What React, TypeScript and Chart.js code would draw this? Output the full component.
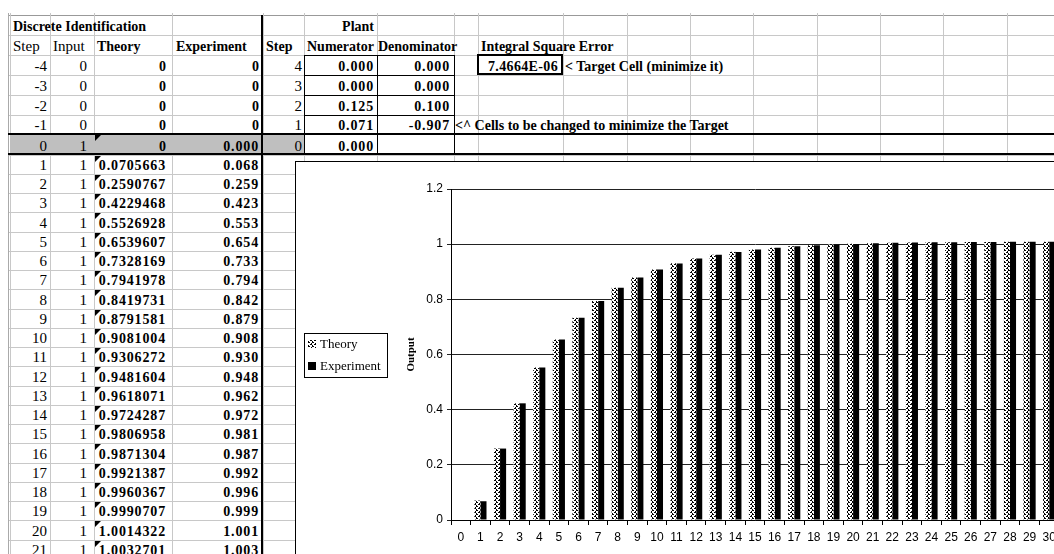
import React, { useEffect, useRef } from 'react';
import { Chart, registerables } from 'chart.js';

Chart.register(...registerables);

// ---------- chart data ----------
const steps = ['0','1','2','3','4','5','6','7','8','9','10','11','12','13','14','15','16','17','18','19','20','21','22','23','24','25','26','27','28','29','30'];
const theory = [0, 0.0705663, 0.2590767, 0.4229468, 0.5526928, 0.6539607, 0.7328169, 0.7941978, 0.8419731, 0.8791581, 0.9081004, 0.9306272, 0.9481604, 0.9618071, 0.9724287, 0.9806958, 0.9871304, 0.9921387, 0.9960367, 0.9990707, 1.0014322, 1.0032701, 1.0047005, 1.0058138, 1.0066803, 1.0073547, 1.0078796, 1.0082881, 1.008606, 1.0088534, 1.009046];
const experiment = [0, 0.068, 0.259, 0.423, 0.553, 0.654, 0.733, 0.794, 0.842, 0.879, 0.908, 0.930, 0.948, 0.962, 0.972, 0.981, 0.987, 0.992, 0.996, 0.999, 1.001, 1.003, 1.005, 1.006, 1.007, 1.007, 1.008, 1.008, 1.009, 1.009, 1.009];
const seriesNames = ['Theory', 'Experiment'];
const axisTitle = 'Output';
const yTickLabels = ['0', '0.2', '0.4', '0.6', '0.8', '1', '1.2'];

// ---------- sheet data ----------
const leadSteps = ['-4', '-3', '-2', '-1'];
const leadInputs = ['0', '0', '0', '0'];
const plantSteps = ['4', '3', '2', '1', '0'];
const numerator = ['0.000', '0.000', '0.125', '0.071', '0.000'];
const denominator = ['0.000', '0.000', '0.100', '-0.907'];
const iseValue = '7.4664E-06';
const tableRows = 21;

const COLS = [10, 50, 94, 172, 263, 304, 377, 454, 478, 563, 627, 690, 753, 817, 880, 943, 1007, 1070];
const HEAD_TOPS = [15, 35, 55, 75, 95, 115, 134, 154.5];
const ROW_H = 19.25;
const dataTop = (k: number) => 154.5 + (k - 1) * ROW_H;

type TP = { x1: number; x2: number; y1: number; y2: number; text: string; bold?: boolean; align?: 'left' | 'right'; pad?: number; ls?: number; size?: number };
function T(p: TP) {
  const right = p.align === 'right';
  return (
    <div style={{
      position: 'absolute', left: p.x1, top: p.y1, width: p.x2 - p.x1, height: p.y2 - p.y1,
      display: 'flex', alignItems: 'flex-end', justifyContent: right ? 'flex-end' : 'flex-start',
      boxSizing: 'border-box', paddingLeft: right ? 0 : (p.pad ?? 3), paddingRight: right ? (p.pad ?? 3) : 0,
      fontWeight: p.bold ? 700 : 400, fontSize: p.size ?? (p.bold ? 14 : 15), letterSpacing: p.ls ?? 0,
      whiteSpace: 'nowrap', lineHeight: '17px', color: '#000', fontFamily: '"Liberation Serif", serif'
    }}>{p.text}</div>
  );
}

function Line({ x, y, w, h, c }: { x: number; y: number; w: number; h: number; c: string }) {
  return <div style={{ position: 'absolute', left: x, top: y, width: w, height: h, background: c }} />;
}

function Tri({ x, y }: { x: number; y: number }) {
  return <div style={{ position: 'absolute', left: x, top: y, width: 0, height: 0, borderTop: '6px solid #000', borderRight: '6px solid transparent' }} />;
}

function ChartView() {
  const ref = useRef<HTMLCanvasElement>(null);
  useEffect(() => {
    const canvas = ref.current!;
    const pc = document.createElement('canvas');
    pc.width = 4; pc.height = 4;
    const p = pc.getContext('2d')!;
    p.fillStyle = '#fff'; p.fillRect(0, 0, 4, 4);
    p.fillStyle = '#000';
    [[0, 0], [1, 0], [3, 1], [2, 2], [3, 2], [0, 3]].forEach(([x, y]) => p.fillRect(x, y, 1, 1));
    const ctx = canvas.getContext('2d')!;
    const pattern = ctx.createPattern(pc, 'repeat')!;

    const legendPlugin = {
      id: 'xlLegend',
      afterDraw(chart: any) {
        const c = chart.ctx;
        c.save();
        c.strokeStyle = '#000'; c.lineWidth = 1;
        c.strokeRect(8.5, 171.5, 83, 44);
        c.fillStyle = pattern; c.fillRect(12, 178, 8, 8);
        c.fillStyle = '#000'; c.fillRect(12, 200, 8, 8);
        c.font = '13px "Liberation Serif"';
        c.textBaseline = 'middle';
        c.fillText(chart.data.datasets[0].label, 24, 182.5);
        c.fillText(chart.data.datasets[1].label, 24, 204.5);
        c.restore();
      }
    };

    const chart = new Chart(canvas, {
      type: 'bar',
      data: {
        labels: steps,
        datasets: [
          { label: seriesNames[0], data: theory, backgroundColor: pattern as any, borderWidth: 0, categoryPercentage: 0.62, barPercentage: 1 },
          { label: seriesNames[1], data: experiment, backgroundColor: '#000', borderWidth: 0, categoryPercentage: 0.62, barPercentage: 1 }
        ]
      },
      options: {
        responsive: false,
        animation: false,
        layout: { padding: { left: 0, top: 27, right: 17, bottom: 0 } },
        plugins: { legend: { display: false }, tooltip: { enabled: false } },
        scales: {
          x: {
            grid: { drawOnChartArea: false, drawTicks: true, tickLength: 5, color: '#000', offset: true },
            border: { color: '#000' },
            ticks: { color: '#000', font: { family: 'Liberation Sans', size: 12 }, padding: 5, maxRotation: 0, autoSkip: false },
            afterFit: (s: any) => { s.height = 42; }
          },
          y: {
            min: 0, max: 1.2,
            ticks: {
              stepSize: 0.2, color: '#000', font: { family: 'Liberation Sans', size: 12 }, padding: 4,
              callback: (_v: any, i: number) => yTickLabels[i]
            },
            grid: { color: '#222', tickLength: 4 },
            border: { color: '#000' },
            title: { display: true, text: axisTitle, color: '#000', font: { family: 'Liberation Serif', size: 11, weight: 'bold' }, padding: { top: 109, bottom: 0 } },
            afterFit: (s: any) => { s.width = 155; }
          }
        }
      },
      plugins: [legendPlugin]
    });
    return () => chart.destroy();
  }, []);
  return (
    <div style={{ position: 'absolute', left: 295, top: 161, width: 780, height: 400, border: '1px solid #000', background: '#fff' }}>
      <canvas ref={ref} width={780} height={400} style={{ display: 'block' }} />
    </div>
  );
}

export default function App() {
  const els: React.ReactNode[] = [];
  const grid = '#c8c8c8';
  const hLines: number[] = [...HEAD_TOPS];
  for (let k = 2; k <= tableRows + 1; k++) hLines.push(dataTop(k));
  hLines.forEach((y, i) => els.push(<Line key={'h' + i} x={8} y={Math.round(y)} w={1060} h={1} c={i === 0 ? '#999' : grid} />));
  COLS.forEach((x, i) => els.push(<Line key={'v' + i} x={x} y={13} w={1} h={560} c={grid} />));
  els.push(<Line key="vleft" x={8} y={13} w={1} h={560} c="#aaa" />);
  els.push(<div key="gray" style={{ position: 'absolute', left: 10, top: 134, width: 294, height: 20, background: '#bfbfbf' }} />);

  const y = (i: number) => [HEAD_TOPS[i], HEAD_TOPS[i + 1]];
  let n = 0;
  const add = (p: TP) => els.push(<T key={'t' + (n++)} {...p} />);

  add({ x1: COLS[0], x2: COLS[3], y1: 15, y2: 35, text: 'Discrete Identification', bold: true, pad: 3 });
  add({ x1: COLS[5], x2: COLS[6], y1: 15, y2: 35, text: 'Plant', bold: true, align: 'right', pad: 3 });
  add({ x1: COLS[0], x2: COLS[1], y1: 35, y2: 55, text: 'Step', pad: 3 });
  add({ x1: COLS[1], x2: COLS[2], y1: 35, y2: 55, text: 'Input', pad: 3 });
  add({ x1: COLS[2], x2: COLS[3], y1: 35, y2: 55, text: seriesNames[0], bold: true, pad: 3 });
  add({ x1: COLS[3], x2: COLS[4], y1: 35, y2: 55, text: seriesNames[1], bold: true, pad: 4 });
  add({ x1: COLS[4], x2: COLS[5], y1: 35, y2: 55, text: 'Step', bold: true, pad: 3 });
  add({ x1: COLS[5], x2: COLS[6], y1: 35, y2: 55, text: 'Numerator', bold: true, pad: 3 });
  add({ x1: COLS[6], x2: COLS[7], y1: 35, y2: 55, text: 'Denominator', bold: true, pad: 1 });
  add({ x1: COLS[8], x2: COLS[9], y1: 35, y2: 55, text: 'Integral Square Error', bold: true, pad: 3 });

  for (let i = 0; i < 5; i++) {
    const [y1, y2] = y(i + 2);
    const isZero = i === 4;
    add({ x1: COLS[0], x2: COLS[1], y1, y2, text: isZero ? '0' : leadSteps[i], align: 'right', pad: 3 });
    add({ x1: COLS[1], x2: COLS[2], y1, y2, text: isZero ? '1' : leadInputs[i], align: 'right', pad: 7 });
    add({ x1: COLS[2], x2: COLS[3], y1, y2, text: '0', bold: true, align: 'right', pad: 6 });
    add({ x1: COLS[3], x2: COLS[4], y1, y2, text: isZero ? experiment[0].toFixed(3) : '0', bold: true, align: 'right', pad: 4, ls: isZero ? 0.85 : 0 });
    add({ x1: COLS[4], x2: COLS[5], y1, y2, text: plantSteps[i], align: 'right', pad: 2 });
    add({ x1: COLS[5], x2: COLS[6], y1, y2, text: numerator[i], bold: true, align: 'right', pad: 3, ls: 0.85 });
    if (!isZero) add({ x1: COLS[6], x2: COLS[7], y1, y2, text: denominator[i], bold: true, align: 'right', pad: 4, ls: 0.85 });
  }
  add({ x1: COLS[8], x2: COLS[9], y1: 55, y2: 75, text: iseValue, bold: true, align: 'right', pad: 5, ls: 0.35 });
  add({ x1: COLS[9], x2: COLS[12], y1: 55, y2: 75, text: '< Target Cell (minimize it)', bold: true, pad: 2 });
  add({ x1: COLS[7], x2: COLS[12], y1: 115, y2: 134, text: '<^ Cells to be changed to minimize the Target', bold: true, pad: 1 });

  for (let k = 1; k <= tableRows; k++) {
    const y1 = dataTop(k), y2 = dataTop(k + 1);
    add({ x1: COLS[0], x2: COLS[1], y1, y2, text: steps[k], align: 'right', pad: 3 });
    add({ x1: COLS[1], x2: COLS[2], y1, y2, text: '1', align: 'right', pad: 7 });
    add({ x1: COLS[2], x2: COLS[3], y1, y2, text: theory[k].toFixed(7), bold: true, align: 'right', pad: 6, ls: 0.85 });
    add({ x1: COLS[3], x2: COLS[4], y1, y2, text: experiment[k].toFixed(3), bold: true, align: 'right', pad: 4, ls: 0.85 });
    els.push(<Tri key={'tri' + k} x={95} y={Math.round(y1) + 1} />);
  }
  els.push(<Tri key="tri0" x={95} y={135} />);

  [55, 75, 95, 115].forEach((yy, i) => els.push(<Line key={'bh' + i} x={304} y={yy} w={151} h={1} c="#000" />));
  [304, 377, 454].forEach((xx, i) => els.push(<Line key={'bv' + i} x={xx} y={55} w={1} h={99} c="#000" />));
  els.push(<div key="ise" style={{ position: 'absolute', left: 477, top: 54, width: 82, height: 17, border: '2px solid #000' }} />);
  els.push(<Line key="th1" x={8} y={133} w={1060} h={2} c="#000" />);
  els.push(<Line key="th2" x={8} y={153} w={1060} h={2} c="#000" />);
  els.push(<Line key="tv" x={261} y={15} w={2} h={560} c="#000" />);

  return (
    <div style={{ position: 'fixed', left: 0, top: 0, width: 1054, height: 554, overflow: 'hidden', background: '#fff' }}>
      {els}
      <ChartView />
    </div>
  );
}
